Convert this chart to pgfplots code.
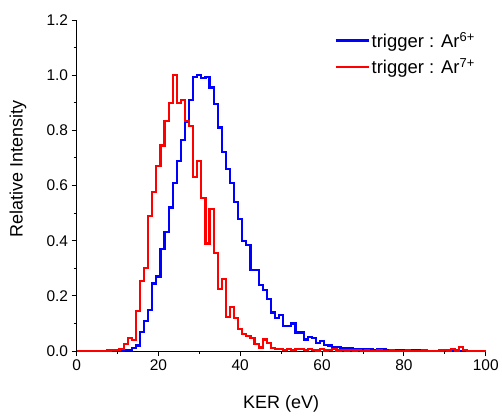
\documentclass[border=0pt]{standalone}
\usepackage{fontspec}
\setmainfont{Liberation Sans}
\usepackage{pgfplots}
\pgfplotsset{compat=1.18}

\definecolor{sixcol}{RGB}{0,0,255}
\definecolor{sevencol}{RGB}{255,0,0}

\begin{document}
\begin{tikzpicture}
% opaque page background
\fill[white] (-76.7bp,-66.3bp) rectangle (425.3bp,351.7bp);
\begin{axis}[
  scale only axis,
  width=410bp, height=331.7bp,
  xmin=0, xmax=100, ymin=0, ymax=1.2,
  axis x line*=bottom, axis y line*=left,
  axis line style={black, line width=0.9bp},
  xtick={0,20,...,100}, ytick={0,0.2,...,1.2},
  minor tick num=1,
  tick align=outside,
  major tick length=5bp, minor tick length=3bp,
  tick style={black, line width=0.9bp},
  /pgf/number format/assume math mode=true,
  yticklabel style={/pgf/number format/.cd, fixed, fixed zerofill, precision=1},
  ticklabel style={font=\fontsize{15.5bp}{18bp}\selectfont},
  xlabel={KER (eV)},
  ylabel={Relative Intensity},
  label style={font=\fontsize{18bp}{21bp}\selectfont},
  xlabel style={at={(axis description cs:0.5,-0.16)}, anchor=center},
  ylabel style={at={(axis description cs:-0.143,0.55)}, anchor=center},
  legend style={draw=none, fill=none, inner sep=0pt,
    at={(axis description cs:0.63,0.97)}, anchor=north west,
    font=\fontsize{18.5bp}{21bp}\selectfont, row sep=6bp,
    nodes={inner sep=2bp, xshift=3bp}},
  legend cell align=left,
  legend image code/.code={\draw[#1] (0bp,0bp) -- (33bp,0bp);},
  every axis plot/.append style={line width=2.2bp, mark=none, const plot mark mid},
]
% trigger Ar6+  (bin centre in eV, 1 eV bins)
\addplot[color=sixcol] table {
x y
8 0
9 0.001
10 0.001
11 0.002
12 0.003
13 0.005
14 0.01
15 0.02
16 0.07
17 0.11
18 0.15
19 0.245
20 0.27
21 0.37
22 0.43
23 0.52
24 0.61
25 0.69
26 0.765
27 0.83
28 0.91
29 0.994
30 1.0
31 0.99
32 0.994
33 0.955
34 0.895
35 0.81
36 0.72
37 0.66
38 0.61
39 0.54
40 0.48
41 0.40
42 0.385
43 0.295
44 0.295
45 0.24
46 0.22
47 0.19
48 0.14
49 0.12
50 0.13
51 0.09
52 0.09
53 0.10
54 0.067
55 0.067
56 0.042
57 0.05
58 0.048
59 0.03
60 0.035
61 0.022
62 0.02
63 0.016
64 0.016
65 0.012
66 0.010
67 0.012
68 0.008
69 0.008
70 0.006
71 0.006
72 0.007
73 0.005
74 0.006
75 0.007
76 0.005
77 0.004
78 0.005
79 0.004
80 0.005
81 0.005
82 0.004
83 0.002
84 0.002
85 0.001
86 0.001
87 0.001
88 0.001
89 0.001
90 0.001
91 0.001
92 0.001
93 0.001
94 0.001
95 0.001
96 0.001
97 0.001
98 0.001
99 0.001
100 0.001
};
\addlegendentry{trigger : Ar\textsuperscript{6+}}
% trigger Ar7+
\addplot[color=sevencol] table {
x y
0 0
1 0
2 0
3 0
4 0
5 0
6 0
7 0
8 0.002
9 0.004
10 0.005
11 0.006
12 0.025
13 0.046
14 0.04
15 0.145
16 0.255
17 0.30
18 0.49
19 0.575
20 0.67
21 0.745
22 0.835
23 0.90
24 1.0
25 0.90
26 0.91
27 0.835
28 0.815
29 0.63
30 0.69
31 0.555
32 0.39
33 0.515
34 0.355
35 0.225
36 0.26
37 0.122
38 0.16
39 0.12
40 0.08
41 0.062
42 0.055
43 0.047
44 0.026
45 0.013
46 0.042
47 0.028
48 0.012
49 0.008
50 0.008
51 0.004
52 0.008
53 0.003
54 0.008
55 0.008
56 0.003
57 0.007
58 0.003
59 0.002
60 0.006
61 0.002
62 0.004
63 0.006
64 0.002
65 0.005
66 0.002
67 0.004
68 0.002
69 0.003
70 0.001
71 0.002
72 0.001
73 0.001
74 0.002
75 0.001
76 0.001
77 0.002
78 0.001
79 0.001
80 0.001
81 0.002
82 0.001
83 0.001
84 0.001
85 0.002
86 0.001
87 0.001
88 0.001
89 0.002
90 0.004
91 0.002
92 0.006
93 0.002
94 0.014
95 0.003
96 0.001
97 0.001
98 0.001
99 0.001
100 0.001
};
\addlegendentry{trigger : Ar\textsuperscript{7+}}
\end{axis}
\path[use as bounding box] (-76.7bp,-66.3bp) rectangle (425.3bp,351.7bp);
\end{tikzpicture}
\end{document}
